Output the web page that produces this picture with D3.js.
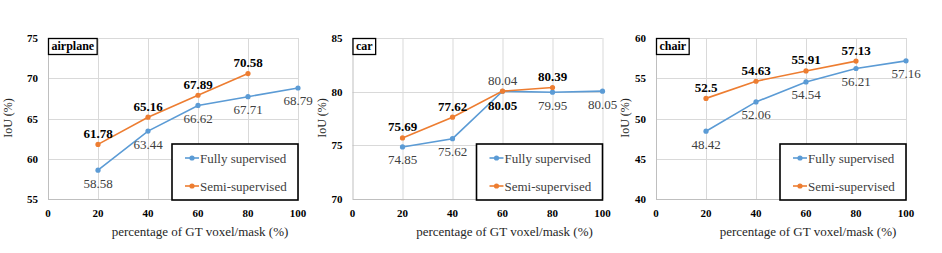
<!doctype html>
<html>
<head>
<style>
  body { margin: 0; background: #fff; }
  svg text { font-family: "Liberation Serif", "DejaVu Serif", serif; }
</style>
<script src="https://d3js.org/d3.v7.min.js"></script>
</head>
<body>
<svg width="942" height="253"></svg>
<script>
  var xTicks = [0, 20, 40, 60, 80, 100];
  var fullyX = [20, 40, 60, 80, 100];
  var semiX = [20, 40, 60, 80];

  var panelNames = ["airplane", "car", "chair"];
  var airplaneFully = [58.58, 63.44, 66.62, 67.71, 68.79];
  var airplaneSemi = [61.78, 65.16, 67.89, 70.58];
  var carFully = [74.85, 75.62, 80.04, 79.95, 80.05];
  var carSemi = [75.69, 77.62, 80.05, 80.39];
  var chairFully = [48.42, 52.06, 54.54, 56.21, 57.16];
  var chairSemi = [52.5, 54.63, 55.91, 57.13];
  var airplaneTicks = [55, 60, 65, 70, 75];
  var carTicks = [70, 75, 80, 85];
  var chairTicks = [40, 45, 50, 55, 60];

  var panels = [
    { name: panelNames[0], fully: airplaneFully, semi: airplaneSemi, ticks: airplaneTicks, left: 48, yt: -36 },
    { name: panelNames[1], fully: carFully, semi: carSemi, ticks: carTicks, left: 352.5, yt: -27 },
    { name: panelNames[2], fully: chairFully, semi: chairSemi, ticks: chairTicks, left: 656, yt: -27 }
  ];

  var blue = "#5b9bd5", orange = "#ed7d31";
  var plotTop = 38, plotBottom = 199, w = 250;
  var svg = d3.select("svg");

  panels.forEach(function(p) {
    var g = svg.append("g").attr("transform", "translate(" + p.left + ",0)");
    var x = d3.scaleLinear().domain([0, 100]).range([0, w]);
    var y = d3.scaleLinear().domain(d3.extent(p.ticks)).range([plotBottom, plotTop]);

    // grid
    g.selectAll(".hg").data(p.ticks).enter().append("line")
      .attr("x1", 0).attr("x2", w)
      .attr("y1", function(d) { return Math.round(y(d)) + 0.5; })
      .attr("y2", function(d) { return Math.round(y(d)) + 0.5; })
      .attr("stroke", function(d, i) { return i == 0 ? "#bfbfbf" : "#d9d9d9"; })
      .attr("stroke-width", 1);
    g.selectAll(".vg").data(xTicks).enter().append("line")
      .attr("y1", plotTop).attr("y2", plotBottom)
      .attr("x1", function(d) { return Math.round(x(d)) + 0.5; })
      .attr("x2", function(d) { return Math.round(x(d)) + 0.5; })
      .attr("stroke", function(d, i) { return i == 0 ? "#bfbfbf" : "#d9d9d9"; })
      .attr("stroke-width", 1);

    // tick labels
    g.selectAll(".yt").data(p.ticks).enter().append("text")
      .attr("x", -10).attr("y", function(d) { return y(d) + 4; })
      .attr("text-anchor", "end")
      .attr("font-size", "11px").attr("font-weight", "bold")
      .text(function(d) { return d; });
    g.selectAll(".xt").data(xTicks).enter().append("text")
      .attr("x", function(d) { return x(d); }).attr("y", 216.5)
      .attr("text-anchor", "middle")
      .attr("font-size", "11px").attr("font-weight", "bold")
      .text(function(d) { return d; });

    // axis titles
    g.append("text")
      .attr("x", 152).attr("y", 236)
      .attr("text-anchor", "middle")
      .attr("font-size", "13px").attr("fill", "#262626")
      .text("percentage of GT voxel/mask (%)");
    g.append("text")
      .attr("transform", "translate(" + p.yt + ",118) rotate(-90)")
      .attr("text-anchor", "middle")
      .attr("font-size", "12px").attr("fill", "#262626")
      .text("IoU (%)");

    // lines
    var fullyPts = fullyX.map(function(v, i) { return [v, p.fully[i]]; });
    var semiPts = semiX.map(function(v, i) { return [v, p.semi[i]]; });
    var line = d3.line().x(function(d) { return x(d[0]); }).y(function(d) { return y(d[1]); });

    [[fullyPts, blue], [semiPts, orange]].forEach(function(s) {
      g.append("path").datum(s[0])
        .attr("d", line).attr("fill", "none")
        .attr("stroke", s[1]).attr("stroke-width", 1.6);
      g.selectAll(null).data(s[0]).enter().append("circle")
        .attr("cx", function(d) { return x(d[0]); })
        .attr("cy", function(d) { return y(d[1]); })
        .attr("r", 2.6).attr("fill", s[1]);
    });

    // value labels (car at 60% has them swapped)
    g.selectAll(null).data(fullyPts).enter().append("text")
      .attr("x", function(d) { return x(d[0]); })
      .attr("y", function(d, i) {
        var swap = p.name == "car" && i == 2;
        return y(d[1]) + (swap ? -6.5 : 17.5);
      })
      .attr("text-anchor", "middle")
      .attr("font-size", "13px").attr("fill", "#404040")
      .text(function(d) { return d[1]; });
    g.selectAll(null).data(semiPts).enter().append("text")
      .attr("x", function(d) { return x(d[0]); })
      .attr("y", function(d, i) {
        var swap = p.name == "car" && i == 2;
        return y(d[1]) + (swap ? 18.5 : -6.5);
      })
      .attr("text-anchor", "middle")
      .attr("font-size", "13px").attr("font-weight", "bold").attr("fill", "#000")
      .text(function(d) { return d[1]; });

    // name box
    var nb = g.append("g").attr("transform", "translate(0," + plotTop + ")");
    var nt = nb.append("text")
      .attr("x", 3.5).attr("y", 12)
      .attr("font-size", "12px").attr("font-weight", "bold")
      .text(p.name);
    var tw = nt.node().getComputedTextLength();
    nb.insert("rect", "text")
      .attr("x", 0.5).attr("y", 0.5)
      .attr("width", tw + 6).attr("height", 16)
      .attr("fill", "#fff").attr("stroke", "#000").attr("stroke-width", 1.3);

    // legend
    var lg = g.append("g").attr("transform", "translate(" + (w - 126) + ",144)");
    lg.append("rect")
      .attr("x", 0).attr("y", 0).attr("width", 126).attr("height", 56)
      .attr("fill", "#fff").attr("stroke", "#000").attr("stroke-width", 1.6);
    [["Fully supervised", blue, 14], ["Semi-supervised", orange, 42]].forEach(function(e) {
      lg.append("line")
        .attr("x1", 13).attr("x2", 27).attr("y1", e[2]).attr("y2", e[2])
        .attr("stroke", e[1]).attr("stroke-width", 1.6);
      lg.append("circle").attr("cx", 20).attr("cy", e[2]).attr("r", 2.6).attr("fill", e[1]);
      lg.append("text")
        .attr("x", 28).attr("y", e[2] + 4.5)
        .attr("font-size", "13px").attr("fill", "#404040")
        .text(e[0]);
    });
  });
</script>
</body>
</html>
